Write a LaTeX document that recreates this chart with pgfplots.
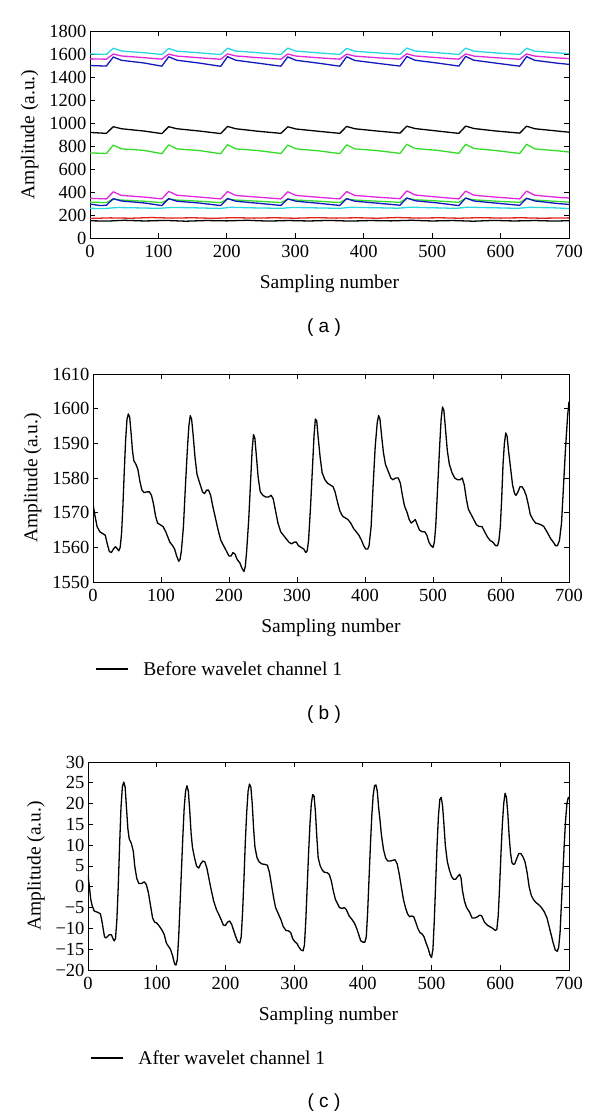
\documentclass[border=0pt]{standalone}
\usepackage{fontspec}
\setmainfont{Liberation Serif}
\setsansfont{Liberation Sans}
\usepackage{pgfplots}
\pgfplotsset{compat=1.18}
\definecolor{cya}{RGB}{40,215,225}
\definecolor{mag}{RGB}{225,40,220}
\definecolor{blu}{RGB}{20,25,190}
\definecolor{grn}{RGB}{50,220,40}
\definecolor{rd}{RGB}{225,35,30}
\pgfplotsset{
  myax/.style={
    scale only axis,
    xmin=0, xmax=700, xtick={0,100,...,700},
    font=\fontsize{18.5}{21}\selectfont,
    tick label style={font=\fontsize{18.5}{21}\selectfont},
    label style={font=\fontsize{19.5}{22}\selectfont},
    /pgf/number format/assume math mode=true,
    /pgf/number format/1000 sep={},
    scaled ticks=false,
    xlabel={Sampling number},
    ylabel={Amplitude (a.u.)},
    xticklabel shift=4pt,
    xlabel shift=10pt,
    ylabel shift=4pt,
    major tick length=5pt,
    tick style={black, line width=0.8pt},
    axis line style={line width=0.9pt},
    tick align=inside,
    clip=true,
  },
  legsty/.style={
    legend style={draw=none, fill=none, anchor=west, inner sep=0pt,
      font=\fontsize{19.5}{22}\selectfont},
    legend cell align=left,
    legend image code/.code={\draw[##1] (0pt,0pt) -- (32pt,0pt); \path (45pt,0pt);},
  }
}
\begin{document}
\begin{tikzpicture}
\useasboundingbox (0,0) rectangle (600pt,-1119pt);
% ---------------- (a)
\begin{axis}[myax, at={(90pt,-238pt)}, anchor=south west, width=479pt, height=207pt,
  ymin=0, ymax=1800, ytick={0,200,...,1800}, every axis plot/.append style={line width=1.3pt, line join=round}]
\addplot[cya] coordinates {(0,1600) (24,1597) (34,1650) (46,1626) (79,1611) (105,1596) (115,1648) (127,1625) (160,1610) (191,1595) (201,1650) (213,1626) (246,1611) (279,1596) (289,1651) (301,1625) (334,1610) (365,1596) (375,1649) (387,1624) (420,1610) (453,1597) (463,1652) (475,1626) (508,1611) (539,1596) (549,1651) (561,1625) (594,1609) (628,1596) (638,1650) (650,1624) (683,1610) (700,1603)};
\addplot[mag] coordinates {(0,1558) (24,1555) (34,1600) (46,1583) (79,1568) (105,1555) (115,1599) (127,1582) (160,1567) (191,1554) (201,1601) (213,1583) (246,1568) (279,1555) (289,1600) (301,1582) (334,1567) (365,1555) (375,1599) (387,1582) (420,1567) (453,1556) (463,1602) (475,1583) (508,1568) (539,1555) (549,1601) (561,1582) (594,1567) (628,1554) (638,1600) (650,1582) (683,1566) (700,1560)};
\addplot[blu] coordinates {(0,1500) (24,1495) (34,1574) (46,1545) (79,1522) (105,1494) (115,1576) (127,1546) (160,1521) (191,1493) (201,1577) (213,1546) (246,1520) (279,1494) (289,1575) (301,1545) (334,1520) (365,1494) (375,1576) (387,1544) (420,1519) (453,1495) (463,1578) (475,1546) (508,1521) (539,1495) (549,1579) (561,1546) (594,1520) (628,1494) (638,1577) (650,1545) (683,1520) (700,1510)};
\addplot[black] coordinates {(0,918) (24,910) (34,968) (46,950) (79,930) (105,908) (115,968) (127,950) (160,930) (191,908) (201,970) (213,950) (246,928) (279,910) (289,967) (301,948) (334,928) (365,910) (375,970) (387,950) (420,930) (453,912) (463,972) (475,952) (508,930) (539,910) (549,973) (561,952) (594,930) (628,912) (638,972) (650,950) (683,930) (700,920)};
\addplot[grn] coordinates {(0,740) (24,735) (34,808) (46,775) (79,762) (105,733) (115,810) (127,775) (160,760) (191,733) (201,812) (213,775) (246,760) (279,735) (289,808) (301,775) (334,758) (365,734) (375,810) (387,775) (420,760) (453,736) (463,815) (475,778) (508,762) (539,736) (549,815) (561,778) (594,760) (628,735) (638,815) (650,775) (683,758) (700,748)};
\addplot[mag] coordinates {(0,345) (24,340) (34,402) (46,370) (79,356) (105,340) (115,405) (127,372) (160,356) (191,340) (201,404) (213,370) (246,355) (279,340) (289,402) (301,370) (334,354) (365,340) (375,404) (387,370) (420,355) (453,342) (463,410) (475,374) (508,356) (539,340) (549,408) (561,372) (594,355) (628,340) (638,408) (650,372) (683,354) (700,348)};
\addplot[grn] coordinates {(0,312) (24,308) (34,338) (46,330) (79,320) (105,307) (115,340) (127,330) (160,320) (191,307) (201,340) (213,330) (246,320) (279,308) (289,338) (301,330) (334,320) (365,308) (375,340) (387,330) (420,320) (453,310) (463,345) (475,333) (508,322) (539,310) (549,345) (561,332) (594,320) (628,310) (638,342) (650,330) (683,318) (700,312)};
\addplot[blu] coordinates {(0,295) (15,282) (24,285) (34,342) (46,322) (79,305) (105,282) (115,342) (127,320) (160,304) (191,282) (201,343) (213,320) (246,302) (279,283) (289,340) (301,320) (334,302) (365,283) (375,342) (387,320) (420,303) (453,285) (463,348) (475,324) (508,305) (539,282) (549,348) (561,322) (594,303) (628,284) (638,346) (650,322) (683,300) (700,292)};
\addplot[cya] coordinates {(0,258) (20,256) (40,265) (70,262) (100,258) (120,266) (150,263) (190,257) (205,267) (240,262) (280,258) (295,266) (330,262) (365,258) (380,267) (420,263) (450,259) (468,268) (500,263) (535,258) (552,268) (590,263) (625,258) (642,267) (680,262) (700,256)};
\addplot[rd] coordinates {(0,170) (30,175) (60,172) (90,178) (120,173) (150,176) (180,171) (210,177) (240,173) (270,176) (300,172) (330,177) (360,173) (390,176) (420,172) (450,178) (480,173) (510,176) (540,172) (570,177) (600,173) (630,176) (660,172) (700,175)};
\addplot[black] coordinates {(0,150) (25,147) (50,154) (80,148) (110,153) (140,146) (170,152) (200,149) (230,154) (260,147) (290,152) (320,148) (350,153) (380,147) (410,152) (440,149) (470,154) (500,148) (530,152) (560,146) (590,153) (620,148) (650,152) (680,147) (700,151)};
\end{axis}
\node[font=\sffamily\fontsize{19}{22}\selectfont] at (324pt,-328pt) {( a )};
% ---------------- (b)
\begin{axis}[myax, legsty, at={(93pt,-582pt)}, anchor=south west, width=476pt, height=208pt,
  ymin=1550, ymax=1610, ytick={1550,1560,...,1610},
  legend style={at={(axis description cs:0.004,-0.418)}}]
\addplot[black, line width=1.3pt, line join=round] coordinates {(0,1572.5) (3,1569) (6,1566) (10,1564.5) (14,1564) (18,1563.5) (21,1561) (24,1558.8) (27,1558.5) (30,1559.5) (33,1560.2) (36,1559.5) (38,1559) (40,1560) (42,1564) (44,1572) (46,1582) (48,1591) (50,1597) (52,1598.5) (54,1597.5) (56,1593) (58,1588) (60,1585) (63,1584) (66,1582.5) (69,1579) (72,1576.5) (75,1575.8) (79,1576) (83,1576) (86,1575) (89,1572.5) (92,1569) (95,1567) (99,1566.5) (103,1566) (107,1564.5) (110,1563) (113,1561.5) (117,1560.5) (120,1559.5) (123,1557.5) (126,1556) (128,1556.5) (130,1559) (133,1566) (136,1578) (139,1589) (141,1595) (143,1598) (145,1597) (147,1593) (150,1586) (153,1581) (157,1578.5) (161,1576) (164,1575.5) (167,1576.5) (170,1576.5) (173,1575) (176,1572) (180,1568.5) (184,1565) (188,1562) (192,1560.5) (196,1559) (200,1557.5) (203,1557.5) (206,1558.5) (209,1558) (212,1556.5) (216,1555.5) (219,1554) (222,1553) (224,1554.5) (226,1559) (229,1568) (232,1580) (234,1588) (236,1592.5) (238,1591.5) (240,1587) (243,1580) (246,1576) (250,1575) (254,1574.5) (258,1574.5) (262,1575) (265,1574) (268,1571) (272,1567) (276,1564.5) (280,1563.5) (284,1562.5) (288,1561.5) (292,1561) (296,1561.5) (299,1561.5) (302,1560.5) (306,1560) (310,1559.5) (313,1558.5) (315,1559) (317,1562) (320,1572) (323,1584) (325,1592) (327,1597) (329,1596.5) (331,1592) (334,1586) (337,1581.5) (341,1579.5) (345,1578.5) (349,1578) (353,1577.5) (356,1576) (359,1573.5) (363,1570.5) (367,1569) (371,1568.5) (375,1568) (379,1567) (383,1565.5) (387,1564.5) (391,1563.5) (395,1562) (398,1560.5) (401,1559.5) (404,1559.5) (406,1560.5) (409,1566) (412,1578) (415,1589) (418,1596) (420,1598) (422,1597) (424,1593) (427,1587.5) (430,1584) (434,1582) (438,1580) (441,1579.5) (445,1580) (449,1580) (452,1578.5) (455,1575) (458,1572) (462,1570) (465,1568) (468,1567) (471,1567.5) (474,1568) (477,1566.5) (480,1565) (484,1564.5) (488,1564.5) (491,1563.5) (494,1561.5) (497,1560.5) (500,1560) (502,1561.5) (504,1566) (507,1578) (510,1590) (512,1597) (514,1600.5) (516,1599.5) (518,1595) (521,1588) (524,1584) (528,1581.5) (532,1580) (536,1579.5) (540,1579.5) (543,1580) (546,1578) (549,1574) (552,1571) (556,1569.5) (560,1568) (564,1566.5) (568,1566) (572,1566) (576,1564.5) (580,1563) (584,1562) (588,1561.5) (592,1560.5) (595,1560.5) (597,1562) (599,1566) (601,1574) (603,1584) (605,1590) (607,1593) (609,1592) (611,1588) (614,1583) (617,1578) (620,1575.5) (622,1575) (625,1576) (628,1577.5) (631,1577.5) (634,1576.5) (637,1575) (640,1572.5) (643,1569.5) (647,1568) (651,1567) (655,1566.8) (659,1566.5) (663,1566) (666,1565) (669,1564) (673,1562.5) (677,1561.5) (680,1560.5) (683,1560.5) (686,1562) (689,1567) (692,1578) (695,1589) (698,1598) (700,1602)};
\addlegendentry{Before wavelet channel 1}
\end{axis}
\node[font=\sffamily\fontsize{19}{22}\selectfont] at (324pt,-715pt) {( b )};
% ---------------- (c)
\begin{axis}[myax, legsty, at={(88pt,-970pt)}, anchor=south west, width=481pt, height=208pt,
  ymin=-20, ymax=30, ytick={-20,-15,...,30},
  yticklabels={−20,−15,−10,−5,0,5,10,15,20,25,30},
  legend style={at={(axis description cs:0.004,-0.423)}}]
\addplot[black, line width=1.3pt, line join=round] coordinates {(0,3) (2,0) (4,-3) (6,-4.5) (9,-5.8) (12,-6) (15,-6.2) (18,-6.5) (20,-8) (22,-10) (24,-12) (26,-12.3) (28,-12) (31,-11.5) (34,-11.5) (36,-12.3) (38,-13) (40,-12.5) (42,-8) (44,0) (46,10) (48,19) (50,24) (52,25.2) (54,24) (56,19) (58,14) (60,11.5) (63,10.5) (66,8.5) (68,5) (71,2) (74,0.8) (78,0.8) (82,1.2) (85,0.5) (88,-1.5) (91,-4.5) (94,-7.5) (97,-8.5) (100,-8.7) (104,-9.5) (108,-10.5) (111,-11.5) (114,-13.5) (117,-14.3) (120,-15) (123,-16.5) (126,-18.5) (128,-18.8) (130,-17.5) (132,-12) (134,-4) (136,4) (138,12) (140,19) (142,23) (144,24.3) (146,23) (148,18.5) (150,13) (152,9.5) (155,7) (158,5) (161,4.5) (164,5.5) (167,6.2) (170,6) (173,4.5) (176,2) (179,-0.5) (183,-3.5) (187,-5.5) (190,-6.5) (194,-8) (197,-9.2) (200,-9.3) (203,-8.5) (206,-8.2) (209,-9) (212,-10.5) (215,-12) (218,-13.2) (221,-13.5) (223,-12) (225,-6) (227,2) (229,11) (231,18) (233,23) (235,24.7) (237,24) (239,20) (241,14) (243,9.5) (246,7) (249,6) (253,5.5) (257,5.4) (261,5.2) (264,3.5) (267,0.5) (270,-2.5) (273,-5) (277,-6.5) (281,-8) (284,-9.5) (288,-10.5) (292,-10.6) (295,-11) (298,-12.5) (301,-13.2) (304,-13.6) (307,-14.5) (310,-15.2) (313,-15.4) (315,-14) (317,-8) (319,0) (321,8) (323,15) (325,20) (327,22.2) (329,21.8) (331,18) (333,12) (335,7) (338,5) (341,4) (344,3.5) (348,3.4) (351,3) (354,1.5) (357,-1) (360,-3) (363,-4) (366,-5) (370,-5.2) (373,-5) (376,-5.5) (380,-7) (384,-7.8) (388,-8.8) (391,-10) (394,-11.5) (397,-13) (400,-13.3) (403,-13.3) (405,-12) (407,-6) (409,2) (411,10) (413,17) (415,22) (417,24.3) (419,24.5) (421,23) (423,19) (425,16) (427,12.5) (430,9) (433,7) (436,6.2) (440,6.2) (444,6.4) (447,6.5) (450,5.5) (453,3) (456,0) (459,-3) (462,-5) (465,-6.5) (468,-7.2) (471,-7) (474,-7.2) (477,-8.5) (480,-10) (483,-11) (486,-11.3) (489,-12) (492,-13.5) (495,-14.8) (498,-16.5) (500,-17) (502,-15) (504,-8) (506,1) (508,10) (510,17) (512,21) (514,21.5) (516,19.5) (518,15) (520,10) (523,6) (526,4) (529,2.5) (532,1.8) (535,1.8) (538,2.5) (541,3) (543,2) (545,-1) (548,-3.5) (551,-5) (555,-6) (559,-7.5) (563,-7.5) (567,-7.2) (570,-6.8) (573,-7) (577,-8.5) (581,-9.2) (585,-9.6) (589,-10) (593,-10.5) (595,-10.2) (597,-7) (599,0) (601,8) (603,15) (605,20) (607,22.5) (609,21.5) (611,17.5) (613,12) (615,8) (617,5.8) (619,5.4) (621,5.5) (624,6.8) (627,8) (630,8) (633,7.2) (636,6) (639,3.5) (642,0) (645,-2) (648,-3) (652,-3.8) (656,-4.3) (660,-5) (664,-6) (668,-7.5) (671,-9.5) (674,-11.5) (677,-13.5) (680,-15.2) (683,-15.5) (685,-14.5) (687,-11) (689,-4) (691,3) (693,10) (695,16) (697,20) (699,21.5) (700,21.2)};
\addlegendentry{After wavelet channel 1}
\end{axis}
\node[font=\sffamily\fontsize{19}{22}\selectfont] at (324pt,-1103pt) {( c )};
\end{tikzpicture}
\end{document}
